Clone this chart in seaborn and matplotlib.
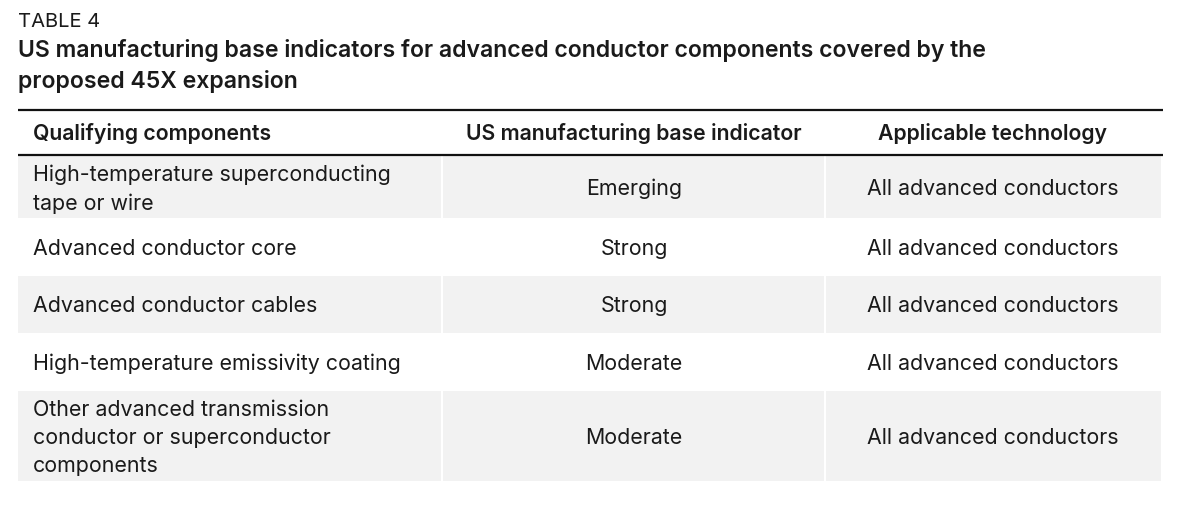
import matplotlib
matplotlib.use("Agg")
import matplotlib.pyplot as plt
import seaborn as sns
from matplotlib.patches import Rectangle

sns.set_theme(style="white")
plt.rcParams['font.family'] = ['Inter', 'DejaVu Sans']

label = "TABLE 4"
title = "US manufacturing base indicators for advanced conductor components covered by the\nproposed 45X expansion"
headers = ["Qualifying components", "US manufacturing base indicator", "Applicable technology"]
components = [
    "High-temperature superconducting\ntape or wire",
    "Advanced conductor core",
    "Advanced conductor cables",
    "High-temperature emissivity coating",
    "Other advanced transmission\nconductor or superconductor\ncomponents",
]
indicators = ["Emerging", "Strong", "Strong", "Moderate", "Moderate"]
technologies = ["All advanced conductors"] * 5

W, H = 1184, 507
fig = plt.figure(figsize=(W / 100, H / 100), dpi=100)
ax = fig.add_axes([0, 0, 1, 1])
ax.set_xlim(0, W)
ax.set_ylim(H, 0)
ax.axis("off")

txt = "#1a1a1a"
gray = "#f2f2f2"
left, right = 18, 1163
col_edges = [18, 442, 825, 1162]
row_tops = [156, 218, 276, 333, 391]
row_bots = [218, 276, 333, 391, 481]

ax.text(18, 22, label, fontsize=14.5, color=txt, va="center", ha="left")
ax.text(18, 66, title, fontsize=16.6, color=txt, va="center", ha="left",
        fontweight="semibold", linespacing=1.4)

ax.plot([left, right], [110, 110], color="#111111", lw=1.6, solid_capstyle="butt")
ax.plot([left, right], [155, 155], color="#111111", lw=1.6, solid_capstyle="butt")

hx = [33, 634, 993]
has = ["left", "center", "center"]
for h, x, a in zip(headers, hx, has):
    ax.text(x, 134, h, fontsize=15.3, fontweight="semibold", color=txt, va="center", ha=a)

for i, (c, ind, tech) in enumerate(zip(components, indicators, technologies)):
    top, bot = row_tops[i], row_bots[i]
    if i % 2 == 0:
        for j in range(3):
            x0 = col_edges[j] + (1 if j > 0 else 0)
            x1 = col_edges[j + 1] - 1
            ax.add_patch(Rectangle((x0, top), x1 - x0, bot - top, color=gray, lw=0))
    yc = (top + bot) / 2 + 2
    ax.text(33, yc, c, fontsize=15.4, color=txt, va="center", ha="left", linespacing=1.53)
    ax.text(634, yc, ind, fontsize=15.4, color=txt, va="center", ha="center")
    ax.text(993, yc, tech, fontsize=15.4, color=txt, va="center", ha="center")

fig.savefig("out.png", dpi=100, facecolor="white")
